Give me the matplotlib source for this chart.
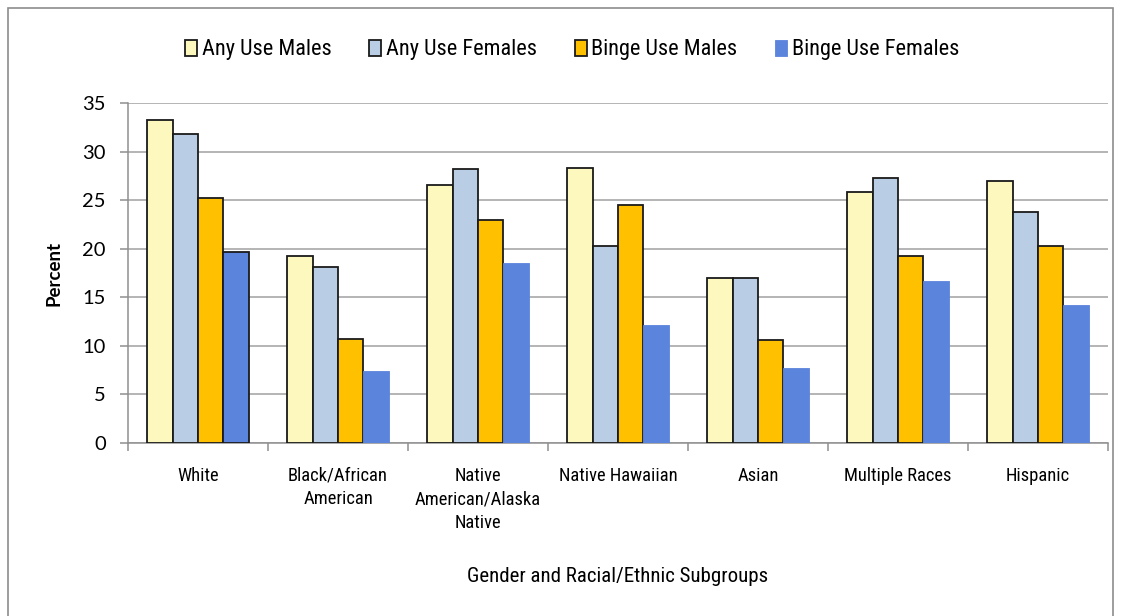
import numpy as np
import matplotlib
matplotlib.use("Agg")
import matplotlib.pyplot as plt
from matplotlib.patches import Rectangle

GROUPS = ["White", "Black/African\nAmerican", "Native\nAmerican/Alaska\nNative",
          "Native Hawaiian", "Asian", "Multiple Races", "Hispanic"]
SERIES = ["Any Use Males", "Any Use Females", "Binge Use Males", "Binge Use Females"]
any_males = [33.2, 19.3, 26.6, 28.3, 17.0, 25.8, 27.0]
any_females = [31.8, 18.1, 28.2, 20.3, 17.0, 27.3, 23.8]
binge_males = [25.2, 10.7, 23.0, 24.5, 10.6, 19.3, 20.3]
binge_females = [19.7, 7.4, 18.5, 12.1, 7.7, 16.7, 14.2]

COLORS = ["#FCF8BE", "#B9CDE5", "#FFC000", "#5B84DD"]
EDGED = [True, True, True, False]

NARROW = ["Liberation Sans Narrow", "Roboto Condensed", "Liberation Sans"]
NUMS = ["Lato", "Open Sans", "DejaVu Sans"]
plt.rcParams["font.family"] = NUMS

fig = plt.figure(figsize=(11.21, 6.16), dpi=100)
ax = fig.add_axes([128 / 1121, 1 - 443 / 616, 980 / 1121, 340 / 616])

values = [any_males, any_females, binge_males, binge_females]
x = np.arange(len(GROUPS))
bw = 1 / 5.5
handles = []
for i, vals in enumerate(values):
    offs = x - 2 * bw + bw * (i + 0.5)
    bars = ax.bar(offs, vals, width=bw, color=COLORS[i],
                  edgecolor="#1a1a1a" if EDGED[i] else COLORS[i],
                  linewidth=1.3 if EDGED[i] else 0.6, zorder=3, label=SERIES[i])
    handles.append(bars)
# the White binge-female bar carries an outline too
handles[3][0].set_edgecolor("#1a1a1a")
handles[3][0].set_linewidth(1.3)

ax.set_xlim(-0.5, len(GROUPS) - 0.5)
ax.set_ylim(0, 35)
ax.set_yticks(range(0, 36, 5))
ax.yaxis.grid(True, color="#A0A0A0", linewidth=1.1, zorder=0)
ax.set_axisbelow(True)
for s in ["top", "right"]:
    ax.spines[s].set_visible(False)
for s in ["left", "bottom"]:
    ax.spines[s].set_color("#909090")
    ax.spines[s].set_linewidth(1.1)

ax.set_xticks(np.arange(len(GROUPS) + 1) - 0.5, minor=False)
ax.set_xticklabels([])
ax.tick_params(axis="x", direction="out", length=6, color="#909090", width=1.1)
ax.set_xticks(x, minor=True)
ax.set_xticklabels(GROUPS, minor=True, fontfamily=NARROW, fontsize=13.3,
                   linespacing=1.4, va="top")
ax.tick_params(axis="x", which="minor", length=0, pad=17)
ax.tick_params(axis="y", direction="out", length=6, color="#909090", width=1.1,
               labelsize=14.5, pad=10)

ax.set_ylabel("Percent", fontweight="bold", fontsize=13.5, labelpad=14)
fig.text(618 / 1121, 1 - 577 / 616, "Gender and Racial/Ethnic Subgroups",
         fontfamily=NARROW, fontsize=15, ha="center", va="center")

leg = fig.legend(handles=handles, loc="center", bbox_to_anchor=(572 / 1121, 1 - 50 / 616),
                 ncol=4, frameon=False, prop={"family": NARROW, "size": 16},
                 handlelength=0.55, handleheight=0.7, handletextpad=0.2, columnspacing=1.7)
leg.legend_handles[3].set_edgecolor(COLORS[3])
leg.legend_handles[3].set_linewidth(0.6)

fig.patches.append(Rectangle((8 / 1121, -0.05), 1105 / 1121, 1.05 - 8 / 616,
                             transform=fig.transFigure, fill=False,
                             edgecolor="#8c8c8c", linewidth=1.2))

fig.savefig("out.png", dpi=100)
